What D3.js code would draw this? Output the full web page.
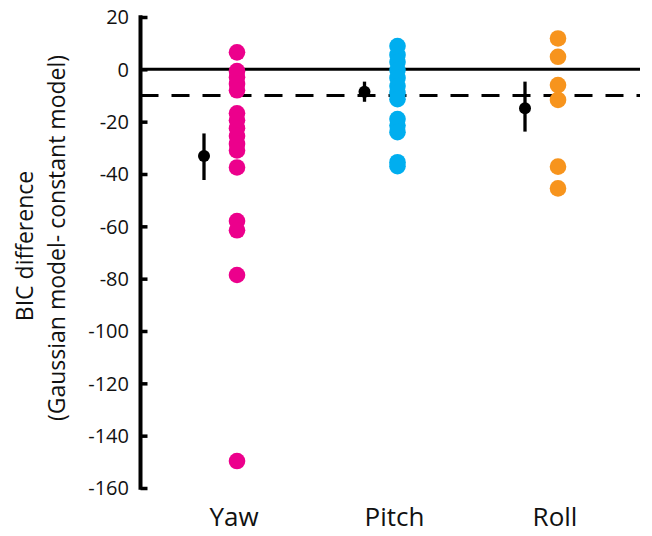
<!DOCTYPE html>
<html>
<head>
<meta charset="utf-8">
<script src="https://cdn.jsdelivr.net/npm/d3@7"></script>
<style>
  html, body { margin: 0; padding: 0; background: #fff; }
  svg { display: block; font-family: "Open Sans", "Noto Sans", sans-serif; }
</style>
</head>
<body>
<svg id="chart" width="652" height="536"></svg>
<script>
// ---- data ----
const categories = ["Yaw", "Pitch", "Roll"];
const yawValues = [6.5, -0.7, -3, -5.6, -8, -16.8, -19.5, -22.5, -25.5, -28.5, -31, -37.5, -58, -61.5, -78.6, -149.7];
const pitchValues = [8.9, 5.5, 2.8, -0.3, -3.3, -6.4, -9, -11.4, -19, -21.5, -24, -35.5, -37];
const rollValues = [11.8, 4.8, -6, -11.7, -37.2, -45.5];
const meanValues = [-33.1, -8.6, -14.9];
const errLow = [-42.3, -12.4, -23.8];
const errHigh = [-24.5, -4.7, -4.7];
const yTicks = [20, 0, -20, -40, -60, -80, -100, -120, -140, -160];
const thresholdValue = -10;
const seriesColors = ["#EC008C", "#00AEEF", "#F7941D"];

// ---- layout ----
const svg = d3.select("#chart");
const axisX = 140.5;
const rightX = 640;
const y = d3.scaleLinear().domain([-160, 20]).range([488, 17]);
const x = d3.scalePoint().domain(categories).range([237, 558]);
const meanOffset = -33;

const seriesValues = [yawValues, pitchValues, rollValues];

// zero line & threshold
svg.append("line")
  .attr("x1", axisX).attr("x2", rightX)
  .attr("y1", y(0)).attr("y2", y(0))
  .attr("stroke", "#000").attr("stroke-width", 3);
svg.append("line")
  .attr("x1", axisX).attr("x2", rightX)
  .attr("y1", y(thresholdValue)).attr("y2", y(thresholdValue))
  .attr("stroke", "#000").attr("stroke-width", 3.2)
  .attr("stroke-dasharray", "18,13");

// y axis
const axisG = svg.append("g").attr("transform", `translate(${axisX},0)`);
const yAxis = d3.axisRight(y).tickValues(yTicks).tickSize(7).tickFormat("");
axisG.call(yAxis);
axisG.select(".domain").remove();
axisG.selectAll(".tick line").attr("stroke", "#000").attr("stroke-width", 3.5);
axisG.append("line")
  .attr("x1", 0).attr("x2", 0)
  .attr("y1", y(20) - 1.75).attr("y2", y(-160) + 1.75)
  .attr("stroke", "#000").attr("stroke-width", 4);

// tick labels
svg.append("g").selectAll("text")
  .data(yTicks)
  .join("text")
  .attr("x", 129)
  .attr("y", d => y(d))
  .attr("dy", "0.36em")
  .attr("text-anchor", "end")
  .attr("font-size", 20)
  .attr("fill", "#111")
  .text(d => d);

// y label
svg.append("text")
  .attr("transform", "translate(33,246) rotate(-90)")
  .attr("text-anchor", "middle")
  .attr("font-size", 23)
  .attr("fill", "#111")
  .text("BIC difference");
svg.append("text")
  .attr("transform", "translate(65,238) rotate(-90)")
  .attr("text-anchor", "middle")
  .attr("font-size", 23)
  .attr("fill", "#111")
  .text("(Gaussian model- constant model)");

// x labels
svg.append("g").selectAll("text")
  .data(categories)
  .join("text")
  .attr("x", d => x(d) - 3)
  .attr("y", 526)
  .attr("text-anchor", "middle")
  .attr("font-size", 26)
  .attr("fill", "#111")
  .text(d => d);

// dots
categories.forEach((c, i) => {
  svg.append("g").selectAll("circle")
    .data(seriesValues[i])
    .join("circle")
    .attr("cx", x(c))
    .attr("cy", d => y(d))
    .attr("r", 8.3)
    .attr("fill", seriesColors[i]);
});

// mean + error bars
categories.forEach((c, i) => {
  const cx = x(c) + meanOffset;
  svg.append("line")
    .attr("x1", cx).attr("x2", cx)
    .attr("y1", y(errLow[i])).attr("y2", y(errHigh[i]))
    .attr("stroke", "#000").attr("stroke-width", 3.3);
  svg.append("circle")
    .attr("cx", cx).attr("cy", y(meanValues[i]))
    .attr("r", 6).attr("fill", "#000");
});
</script>
</body>
</html>
